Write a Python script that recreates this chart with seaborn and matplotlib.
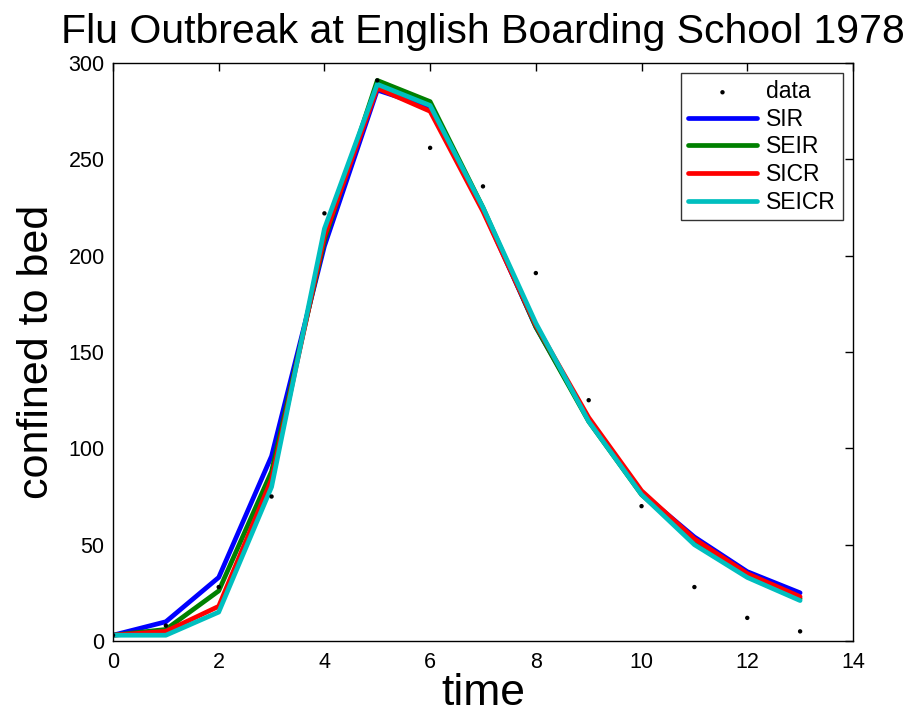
import numpy as np
import pandas as pd
import matplotlib
matplotlib.use("Agg")
import matplotlib.pyplot as plt
import seaborn as sns

# ---- data ----
time = [0, 1, 2, 3, 4, 5, 6, 7, 8, 9, 10, 11, 12, 13]
data = [3, 8, 28, 75, 222, 291, 256, 236, 191, 125, 70, 28, 12, 5]
sir = [3, 10, 33, 96, 205, 286, 277, 224, 163, 115, 77, 54, 36, 25]
seir = [3, 6, 26, 88, 208, 291, 280, 225, 163, 114, 76, 52, 34, 22]
sicr = [3, 5, 18, 84, 210, 287, 275, 223, 164, 116, 78, 53, 35, 23]
seicr = [3, 3, 15, 80, 214, 289, 278, 225, 165, 114, 76, 50, 33, 21]
models = ["SIR", "SEIR", "SICR", "SEICR"]
colors = ["#0000ff", "#008000", "#ff0000", "#00bfbf"]
x_ticks = [0, 2, 4, 6, 8, 10, 12, 14]
y_ticks = [0, 50, 100, 150, 200, 250, 300]

sns.set_style("white")
plt.rcParams["font.family"] = ["Liberation Sans", "DejaVu Sans"]
plt.rcParams["text.color"] = "black"
plt.rcParams["axes.labelcolor"] = "black"

df = pd.DataFrame({
    "time": time * 4,
    "value": sir + seir + sicr + seicr,
    "model": sum([[m] * len(time) for m in models], []),
})
df_data = pd.DataFrame({"time": time, "value": data})

fig = plt.figure(figsize=(9.15, 7.17), dpi=100)
ax = fig.add_axes([0.1235, 0.106, 0.8087, 0.806])

sns.scatterplot(data=df_data, x="time", y="value", ax=ax, color="black",
                s=10, marker="o", edgecolor="none", label="data", zorder=5)
sns.lineplot(data=df, x="time", y="value", hue="model", hue_order=models,
             palette=colors, linewidth=3.4, ax=ax, legend=True)

ax.set_xlim(0, 14)
ax.set_ylim(0, 300)
ax.set_xticks(x_ticks)
ax.set_yticks(y_ticks)
ax.tick_params(direction="in", length=6, width=1, top=True, right=True,
               labelsize=15.5, pad=6, colors="black", labelcolor="black")
ax.tick_params(axis="x", pad=8)
for s in ax.spines.values():
    s.set_visible(True)
    s.set_color("black")
    s.set_linewidth(1)

ax.set_xlabel("time", fontsize=32, labelpad=0, color="black")
ax.set_ylabel("confined to bed", fontsize=31, labelpad=8, color="black")
ax.set_title("Flu Outbreak at English Boarding School 1978", fontsize=29.5,
             pad=14.5, color="black")

handles, labels = ax.get_legend_handles_labels()
leg = ax.legend(handles, labels, loc="upper right", fontsize=16.5,
                frameon=True, fancybox=False, edgecolor="black",
                borderaxespad=0.45, handlelength=3.0, labelspacing=0.2,
                handletextpad=0.4, borderpad=0.3, markerscale=1.0)
leg.get_frame().set_linewidth(1)
for t in leg.get_texts():
    t.set_color("black")

fig.savefig("out.png", dpi=100)
